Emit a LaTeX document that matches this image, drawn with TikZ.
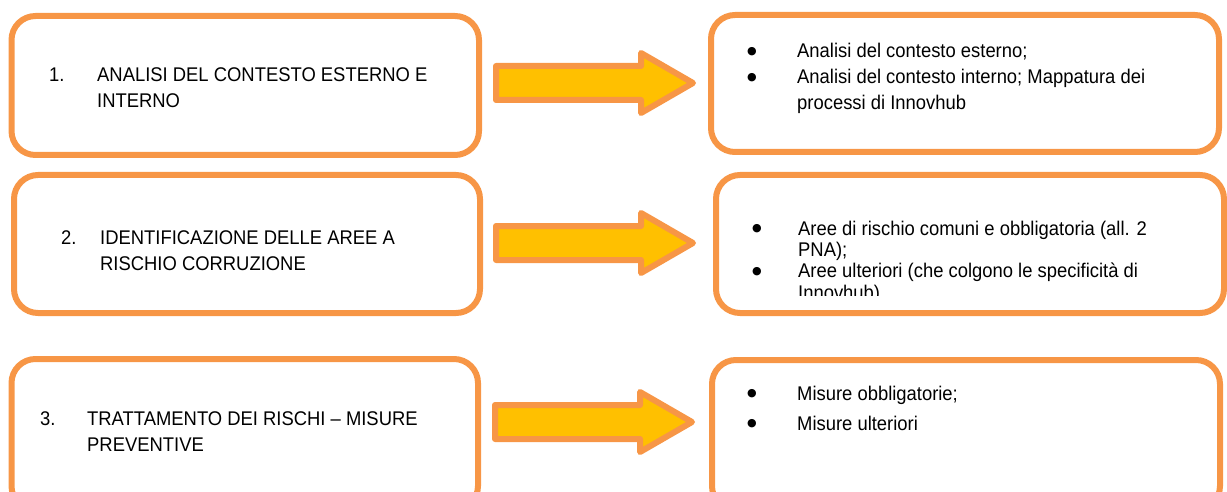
\documentclass[tikz,border=0pt]{standalone}
\usepackage{fontspec}
\setmainfont{Liberation Sans}[FakeStretch=0.93]
\newfontfamily\dotfont{DejaVu Sans}
\usetikzlibrary{shapes.arrows}
\definecolor{boxorange}{HTML}{F79646}
\definecolor{arrowgold}{HTML}{FFC000}
\newcommand{\blt}{{\dotfont\fontsize{11}{11}\selectfont\raisebox{3.5pt}{●}}}
\tikzset{
  box/.style={draw=boxorange, line width=6pt, rounded corners=24pt, outer sep=0pt,
    inner sep=0pt, anchor=north west},
  bigarrow/.style={single arrow, draw=boxorange, fill=arrowgold, line width=6pt,
    line join=round, single arrow tip angle=60, single arrow head extend=13pt,
    minimum height=197pt, inner xsep=0pt, inner ysep=14pt, text height=0pt,
    text depth=0pt, outer sep=0pt, anchor=tail},
  txt/.style={inner sep=0pt, anchor=base west, align=left},
}
\begin{document}
\begin{tikzpicture}[x=1pt, y=-1pt, font=\fontsize{19.8}{26}\selectfont]
  \path[use as bounding box, clip] (0,0) rectangle (1227,492);
  % boxes on the left
  \node[box, minimum width=467.5pt, minimum height=139pt] (l1) at (11.5,16) {};
  \node[box, minimum width=466pt, minimum height=138pt] (l2) at (14,175) {};
  \node[box, minimum width=466.5pt, minimum height=151pt] (l3) at (11.5,359) {};
  % boxes on the right
  \node[box, minimum width=508pt, minimum height=137pt] (r1) at (711,15) {};
  \node[box, minimum width=508pt, minimum height=138pt] (r2) at (716,175) {};
  \node[box, minimum width=508pt, minimum height=150pt] (r3) at (712,360) {};
  % arrows
  \node[bigarrow] (a1) at ([xshift=17pt, yshift=-67pt]l1.north east) {};
  \node[bigarrow] (a2) at ([xshift=16pt, yshift=-68pt]l2.north east) {};
  \node[bigarrow] (a3) at ([xshift=17pt, yshift=-63pt]l3.north east) {};
  % steps
  \node[txt] (s1) at (49,82) {\begin{tabular}[t]{@{}p{48pt}@{}l@{}}
    1. & ANALISI DEL CONTESTO ESTERNO E\\ & INTERNO\end{tabular}};
  \node[txt] (s2) at (61,244) {\begin{tabular}[t]{@{}p{39pt}@{}l@{}}
    2. & IDENTIFICAZIONE DELLE AREE A\\ & RISCHIO CORRUZIONE\end{tabular}};
  \node[txt] (s3) at (40,425) {\begin{tabular}[t]{@{}p{47pt}@{}l@{}}
    3. & TRATTAMENTO DEI RISCHI -- MISURE\\ & PREVENTIVE\end{tabular}};
  % lists
  \node[txt] (b1) at (747,58) {\begin{tabular}[t]{@{}p{50pt}@{}l@{}}
    \blt & Analisi del contesto esterno;\\
    \blt & Analisi del contesto interno; Mappatura dei\\
         & processi di Innovhub\end{tabular}};
  \begin{scope}
    \clip (r2.north west) rectangle ([yshift=18pt]r2.south east);
    \node[txt, font=\fontsize{19.8}{21.5}\selectfont] (b2) at (752,235) {\begin{tabular}[t]{@{}p{46pt}@{}l@{}}
      \blt & Aree di rischio comuni e obbligatoria (all. 2\\
           & PNA);\\
      \blt & Aree ulteriori (che colgono le specificità di\\
           & Innovhub)\end{tabular}};
  \end{scope}
  \node[txt, font=\fontsize{19.8}{30}\selectfont] (b3) at (747,400) {\begin{tabular}[t]{@{}p{50pt}@{}l@{}}
    \blt & Misure obbligatorie;\\
    \blt & Misure ulteriori\end{tabular}};
\end{tikzpicture}
\end{document}
